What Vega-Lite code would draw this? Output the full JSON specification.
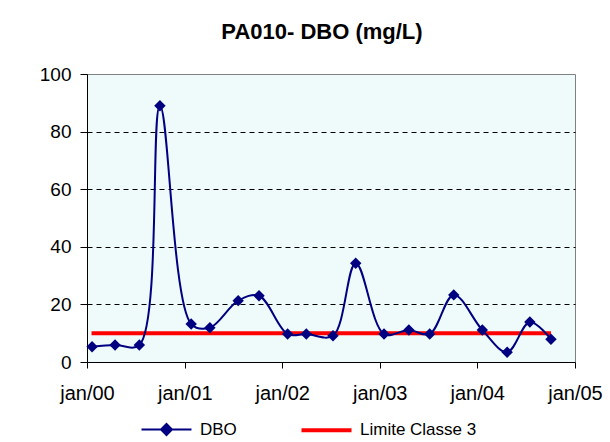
{
  "$schema": "https://vega.github.io/schema/vega-lite/v6.json",
  "width": 488,
  "height": 288,
  "autosize": {"type": "none"},
  "padding": {"left": 87, "top": 74, "right": 35, "bottom": 80},
  "background": "#FFFFFF",
  "title": {
    "text": "PA010- DBO (mg/L)",
    "font": "Liberation Sans",
    "fontSize": 22,
    "fontWeight": "bold",
    "color": "#000000",
    "anchor": "middle",
    "frame": "group",
    "baseline": "alphabetic",
    "offset": 4,
    "dx": -9
  },
  "config": {
    "font": "Liberation Sans",
    "view": {"fill": "#EFFAFA", "stroke": "#808080", "strokeWidth": 1}
  },
  "data": {
    "values": [
      {"date": "2000-01-20", "value": 5.3, "series": "DBO"},
      {"date": "2000-04-15", "value": 5.9, "series": "DBO"},
      {"date": "2000-07-15", "value": 5.9, "series": "DBO"},
      {"date": "2000-09-30", "value": 89, "series": "DBO"},
      {"date": "2001-01-25", "value": 13.2, "series": "DBO"},
      {"date": "2001-04-05", "value": 11.9, "series": "DBO"},
      {"date": "2001-07-20", "value": 21.3, "series": "DBO"},
      {"date": "2001-10-06", "value": 23, "series": "DBO"},
      {"date": "2002-01-21", "value": 9.7, "series": "DBO"},
      {"date": "2002-04-01", "value": 9.7, "series": "DBO"},
      {"date": "2002-07-10", "value": 9.1, "series": "DBO"},
      {"date": "2002-10-03", "value": 34.3, "series": "DBO"},
      {"date": "2003-01-17", "value": 9.7, "series": "DBO"},
      {"date": "2003-04-20", "value": 11.1, "series": "DBO"},
      {"date": "2003-07-07", "value": 9.7, "series": "DBO"},
      {"date": "2003-10-05", "value": 23.3, "series": "DBO"},
      {"date": "2004-01-20", "value": 11.1, "series": "DBO"},
      {"date": "2004-04-22", "value": 3.4, "series": "DBO"},
      {"date": "2004-07-16", "value": 13.9, "series": "DBO"},
      {"date": "2004-10-03", "value": 7.9, "series": "DBO"},
      {"date": "2000-01-18", "value": 10, "series": "Limite Classe 3"},
      {"date": "2004-10-03", "value": 10, "series": "Limite Classe 3"}
    ]
  },
  "encoding": {
    "x": {
      "field": "date",
      "type": "temporal",
      "scale": {
        "type": "utc",
        "domain": [
          {"year": 2000, "month": 1, "date": 1, "utc": true},
          {"year": 2005, "month": 1, "date": 1, "utc": true}
        ],
        "nice": false
      },
      "axis": {
        "title": null,
        "values": [
          {"year": 2000, "month": 1, "date": 1, "utc": true},
          {"year": 2001, "month": 1, "date": 1, "utc": true},
          {"year": 2002, "month": 1, "date": 1, "utc": true},
          {"year": 2003, "month": 1, "date": 1, "utc": true},
          {"year": 2004, "month": 1, "date": 1, "utc": true},
          {"year": 2005, "month": 1, "date": 1, "utc": true}
        ],
        "labelExpr": "'jan/' + utcFormat(datum.value, '%y')",
        "grid": false,
        "domainColor": "#000000",
        "tickColor": "#000000",
        "tickSize": 6,
        "labelFontSize": 20,
        "labelColor": "#000000",
        "labelPadding": 15,
        "labelFlush": false,
        "labelOverlap": false
      }
    },
    "y": {
      "field": "value",
      "type": "quantitative",
      "scale": {"domain": [0, 100], "nice": false},
      "axis": {
        "title": null,
        "values": [0, 20, 40, 60, 80, 100],
        "grid": true,
        "gridDash": [5, 4],
        "gridColor": {"condition": {"test": "datum.value === 0 || datum.value === 100", "value": "transparent"}, "value": "#000000"},
        "domainColor": "#000000",
        "tickColor": "#000000",
        "tickSize": 7,
        "labelFontSize": 19,
        "labelColor": "#000000",
        "labelPadding": 9
      }
    },
    "color": {
      "field": "series",
      "type": "nominal",
      "scale": {"domain": ["DBO", "Limite Classe 3"], "range": ["#000080", "#FF0000"]},
      "legend": {
        "title": null,
        "orient": "none",
        "direction": "horizontal",
        "legendX": 71,
        "legendY": 347,
        "padding": 0,
        "labelFontSize": 17,
        "labelColor": "#000000",
        "labelOffset": 25,
        "columnPadding": 56,
        "symbolSize": 2500,
        "symbolStrokeWidth": 2,
        "encode": {
          "symbols": {
            "update": {
              "shape": {"signal": "datum.value === 'DBO' ? 'M-1,0H1M0,-0.22L0.22,0L0,0.22L-0.22,0Z' : 'M-1,0H1'"},
              "fill": {"signal": "datum.value === 'DBO' ? '#000080' : 'transparent'"},
              "stroke": {"signal": "datum.value === 'DBO' ? '#000080' : '#FF0000'"},
              "strokeWidth": {"signal": "datum.value === 'DBO' ? 2 : 4"},
              "opacity": {"value": 1},
              "fillOpacity": {"value": 1},
              "strokeOpacity": {"value": 1}
            }
          }
        }
      }
    }
  },
  "layer": [
    {
      "transform": [{"filter": "datum.series === 'Limite Classe 3'"}],
      "mark": {"type": "line", "strokeWidth": 4}
    },
    {
      "transform": [{"filter": "datum.series === 'DBO'"}],
      "mark": {"type": "line", "strokeWidth": 2, "interpolate": "catmull-rom"}
    },
    {
      "transform": [{"filter": "datum.series === 'DBO'"}],
      "mark": {"type": "point", "shape": "diamond", "filled": true, "size": 130, "opacity": 1}
    }
  ]
}
